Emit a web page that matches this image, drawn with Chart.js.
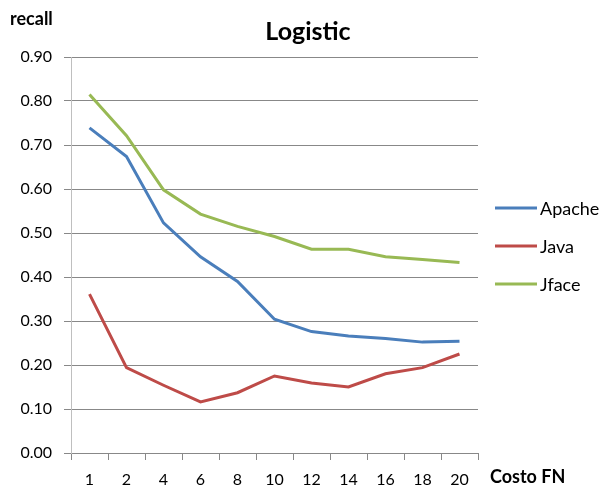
<!DOCTYPE html>
<html>
<head>
<meta charset="utf-8">
<script src="https://cdn.jsdelivr.net/npm/chart.js@4/dist/chart.umd.min.js"></script>
<style>
  html, body { margin: 0; padding: 0; background: #fff; }
  #wrap { width: 604px; height: 486px; position: relative; }
</style>
</head>
<body>
<div id="wrap"><canvas id="c" width="604" height="486"></canvas></div>
<script>
// Cost of a false negative (x categories)
const costs = ['1', '2', '4', '6', '8', '10', '12', '14', '16', '18', '20'];

// Recall per project
const apache = [0.739, 0.674, 0.523, 0.446, 0.390, 0.304, 0.276, 0.266, 0.260, 0.252, 0.254];
const java   = [0.361, 0.194, 0.154, 0.116, 0.137, 0.175, 0.159, 0.150, 0.180, 0.194, 0.225];
const jface  = [0.815, 0.721, 0.598, 0.543, 0.515, 0.492, 0.463, 0.463, 0.446, 0.440, 0.433];

const seriesNames = ['Apache', 'Java', 'Jface'];
const seriesColors = ['#4a7ebb', '#be4b48', '#98b954'];

const chartTitle = 'Logistic';
const yTitle = 'recall';
const xTitle = 'Costo FN';

const FONT = 'Lato, "Liberation Sans", sans-serif';

// Title, axis captions and legend drawn next to the plot
const decorations = {
  id: 'decorations',
  afterDraw(chart) {
    const ctx = chart.ctx;
    ctx.save();
    ctx.fillStyle = '#000';
    ctx.textBaseline = 'middle';

    ctx.font = 'bold 25px ' + FONT;
    ctx.textAlign = 'center';
    ctx.fillText(chartTitle, 308, 32);

    ctx.font = 'bold 18px ' + FONT;
    ctx.textAlign = 'left';
    ctx.fillText(yTitle, 10, 19);
    ctx.fillText(xTitle, 490, 477);

    ctx.font = '18px ' + FONT;
    chart.data.datasets.forEach((ds, i) => {
      const y = 208 + i * 38;
      ctx.strokeStyle = ds.borderColor;
      ctx.lineWidth = 3;
      ctx.beginPath();
      ctx.moveTo(495, y);
      ctx.lineTo(537, y);
      ctx.stroke();
      ctx.fillText(ds.label, 540, y + 1);
    });
    ctx.restore();
  }
};

new Chart(document.getElementById('c'), {
  type: 'line',
  data: {
    labels: costs,
    datasets: [apache, java, jface].map((vals, i) => ({
      label: seriesNames[i],
      data: vals,
      borderColor: seriesColors[i],
      backgroundColor: seriesColors[i],
      borderWidth: 3,
      pointRadius: 0,
      tension: 0,
      fill: false
    }))
  },
  options: {
    responsive: false,
    animation: false,
    devicePixelRatio: 1,
    layout: { padding: { top: 57, right: 126, bottom: 0, left: 0 } },
    plugins: {
      legend: { display: false },
      title: { display: false },
      tooltip: { enabled: false }
    },
    scales: {
      x: {
        offset: true,
        afterFit(scale) { scale.height = 33; },
        grid: {
          offset: true,
          drawOnChartArea: false,
          drawTicks: true,
          tickLength: 7,
          color: '#888888'
        },
        border: { color: '#888888', width: 1 },
        ticks: {
          color: '#000',
          font: { family: FONT, size: 16 },
          padding: 10,
          maxRotation: 0
        }
      },
      y: {
        min: 0,
        max: 0.9,
        afterFit(scale) { scale.width = 71; },
        grid: {
          color: '#888888',
          tickLength: 7,
          drawTicks: true
        },
        border: { color: '#bfbfbf', width: 1 },
        ticks: {
          stepSize: 0.1,
          color: '#000',
          font: { family: FONT, size: 16 },
          padding: 12,
          callback: v => v.toFixed(2)
        }
      }
    }
  },
  plugins: [decorations]
});
</script>
</body>
</html>
